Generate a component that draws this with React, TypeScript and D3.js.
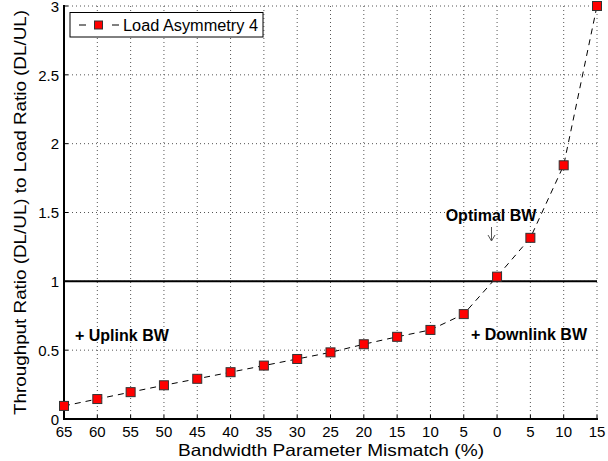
import React from "react";
import * as d3 from "d3";

const categories = ["65", "60", "55", "50", "45", "40", "35", "30", "25", "20", "15", "10", "5", "0", "5", "10", "15"];
const values = [0.095, 0.145, 0.195, 0.245, 0.292, 0.34, 0.388, 0.436, 0.484, 0.543, 0.597, 0.647, 0.762, 1.034, 1.316, 1.843, 3.0];
const yTicks = [0, 0.5, 1, 1.5, 2, 2.5, 3];
const yTickLabels = ["0", "0.5", "1", "1.5", "2", "2.5", "3"];
const seriesName = "Load Asymmetry 4";

const W = 608, H = 461;
const L = 64, R = 597, T = 6, B = 419;
const font = "'Liberation Sans', Arial, Helvetica, sans-serif";

export default function App() {
  const idx = categories.map((_, i) => i);
  const x = d3.scaleLinear().domain([0, categories.length - 1]).range([L, R]);
  const y = d3.scaleLinear().domain([0, 3]).range([B, T]);
  const line = d3.line<number>().x((_, i) => x(i)).y((d) => y(d));
  const ms = 9;
  const lms = 8;
  return (
    <svg width={W} height={H} style={{ position: "absolute", left: 0, top: 0, background: "#fff" }} fontFamily={font}>
      <rect x={0} y={0} width={W} height={H} fill="#fff" />
      {/* grid */}
      {yTicks.map((t) => (
        <line key={"gy" + t} x1={L} x2={R} y1={y(t)} y2={y(t)} stroke="#555" strokeWidth={1} strokeDasharray="1,3" />
      ))}
      {idx.map((i) => (
        <line key={"gx" + i} x1={x(i)} x2={x(i)} y1={B} y2={T} stroke="#555" strokeWidth={1} strokeDasharray="1,3" />
      ))}
      {/* reference line at 1 */}
      <line x1={L} x2={R} y1={y(1)} y2={y(1)} stroke="#000" strokeWidth={2} />
      {/* axes */}
      <line x1={L} x2={L} y1={T - 1} y2={B + 1} stroke="#000" strokeWidth={2} />
      <line x1={L - 1} x2={R + 1} y1={B} y2={B} stroke="#000" strokeWidth={2} />
      {yTicks.map((t, k) => (
        <g key={"yt" + t}>
          <line x1={L} x2={L + 4} y1={y(t)} y2={y(t)} stroke="#000" strokeWidth={1} />
          <text x={L - 5} y={y(t) + 5.8} textAnchor="end" fontSize={15}>{yTickLabels[k]}</text>
        </g>
      ))}
      {idx.map((i) => (
        <g key={"xt" + i}>
          <line x1={x(i)} x2={x(i)} y1={B} y2={B - 4} stroke="#000" strokeWidth={1} />
          <text x={x(i)} y={437} textAnchor="middle" fontSize={15}>{categories[i]}</text>
        </g>
      ))}
      {/* series */}
      <path d={line(values) || ""} fill="none" stroke="#000" strokeWidth={1} strokeDasharray="6,5" />
      {values.map((v, i) => (
        <rect key={"m" + i} x={x(i) - ms / 2} y={y(v) - ms / 2} width={ms} height={ms} fill="#f00" stroke="#333" strokeWidth={1} />
      ))}
      {/* annotations */}
      <text x={75} y={341} fontSize={16} fontWeight="bold">+ Uplink BW</text>
      <text x={587} y={340} fontSize={16} fontWeight="bold" textAnchor="end">+ Downlink BW</text>
      <text x={491} y={221} fontSize={16} fontWeight="bold" textAnchor="middle">Optimal BW</text>
      <line x1={491.5} x2={491.5} y1={227} y2={241} stroke="#555" strokeWidth={1} />
      <path d="M488,235 L491.5,241 L495,235" fill="none" stroke="#555" strokeWidth={1} />
      {/* legend */}
      <rect x={70} y={12.5} width={193} height={24.5} fill="#fff" stroke="#000" strokeWidth={1} />
      <line x1={79} x2={86} y1={25} y2={25} stroke="#000" strokeWidth={1} />
      <line x1={112} x2={119} y1={25} y2={25} stroke="#000" strokeWidth={1} />
      <rect x={98.5 - lms / 2} y={25 - lms / 2} width={lms} height={lms} fill="#f00" stroke="#333" strokeWidth={1} />
      <text x={123} y={31} fontSize={16} textLength={135} lengthAdjust="spacingAndGlyphs">{seriesName}</text>
      {/* axis labels */}
      <text x={331} y={456} textAnchor="middle" fontSize={16.5} textLength={306} lengthAdjust="spacingAndGlyphs">Bandwidth Parameter Mismatch (%)</text>
      <text transform={`translate(26,${(T + B) / 2}) rotate(-90)`} textAnchor="middle" fontSize={17} textLength={405} lengthAdjust="spacingAndGlyphs">Throughput Ratio (DL/UL) to Load Ratio (DL/UL)</text>
    </svg>
  );
}
